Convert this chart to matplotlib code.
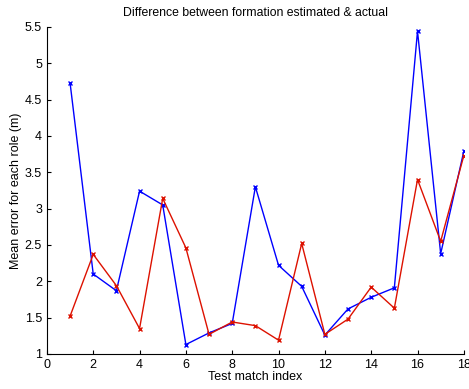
import numpy as np
import matplotlib.pyplot as plt

match_index = np.arange(1, 19)
blue_err = [4.73, 2.10, 1.87, 3.24, 3.05, 1.13, 1.29, 1.42, 3.30,
            2.22, 1.93, 1.26, 1.62, 1.78, 1.91, 5.44, 2.38, 3.79]
red_err = [1.52, 2.37, 1.94, 1.35, 3.14, 2.46, 1.27, 1.44, 1.39,
           1.19, 2.52, 1.27, 1.48, 1.92, 1.63, 3.40, 2.55, 3.73]

plt.rcParams['font.family'] = ['Liberation Sans', 'DejaVu Sans']

fig = plt.figure(figsize=(4.69, 3.89), dpi=100)
ax = fig.add_axes([0.100, 0.090, 0.889, 0.841])

ax.plot(match_index, blue_err, 'x-', color='#0000ff', lw=1.0, ms=3.5, mew=1.0)
ax.plot(match_index, red_err, 'x-', color='#dd1100', lw=1.0, ms=3.5, mew=1.0)

ax.set_xlim(0, 18)
ax.set_ylim(1, 5.5)
ax.set_xticks(np.arange(0, 19, 2))
ax.set_yticks(np.arange(1, 5.51, 0.5))
ax.set_yticklabels(['1', '1.5', '2', '2.5', '3', '3.5', '4', '4.5', '5', '5.5'])

ax.spines['top'].set_visible(False)
ax.spines['right'].set_visible(False)
ax.tick_params(direction='in', length=3, labelsize=9, width=0.8)

ax.set_title('Difference between formation estimated & actual', fontsize=8.8, pad=8)
ax.set_xlabel('Test match index', fontsize=9, labelpad=0)
ax.set_ylabel('Mean error for each role (m)', fontsize=9, labelpad=2)

fig.savefig('out.png', dpi=100)
